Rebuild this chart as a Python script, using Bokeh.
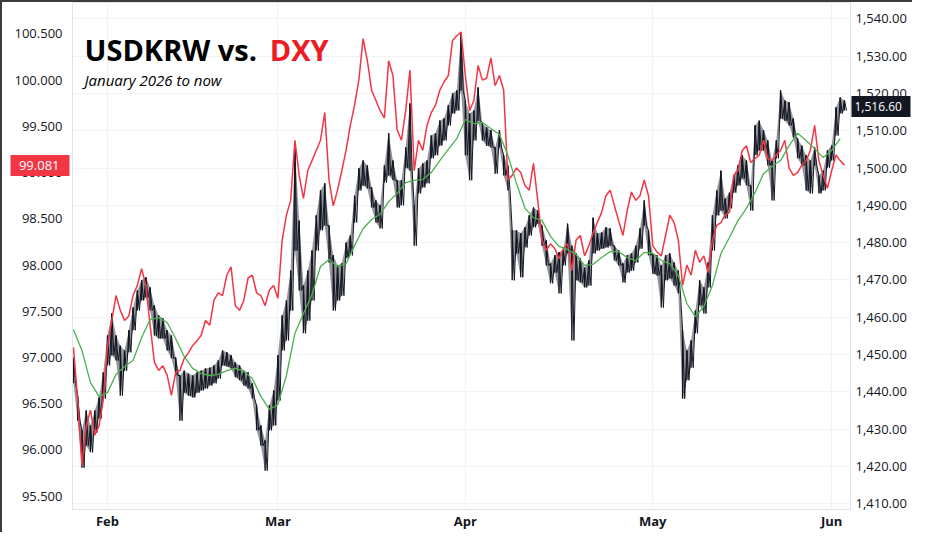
import numpy as np
from bokeh.plotting import figure
from bokeh.models import Range1d, LinearAxis, FixedTicker, NumeralTickFormatter, Label
from bokeh.embed import file_html
from bokeh.resources import INLINE

# Time axis: trading days (Mon-Fri) elapsed since Monday 2026-01-26
ORIGIN = "2026-01-26"
T_START = 1.0
STEP = 0.5        # two samples per trading day
MA_STEP = 1.0     # one moving-average sample per trading day

# DXY (left axis)
dxy = [
    97.11, 96.54, 95.83, 96.26, 96.43, 96.16, 96.26, 96.54, 97.13, 97.40,
    97.67, 97.51, 97.40, 97.45, 97.67, 97.78, 97.96, 97.78, 97.35, 96.95,
    96.86, 96.91, 96.81, 96.59, 96.84, 96.86, 96.99, 97.05, 97.13, 97.18,
    97.24, 97.40, 97.35, 97.62, 97.70, 97.67, 97.89, 97.98, 97.56, 97.51,
    97.62, 97.86, 97.89, 97.70, 97.67, 97.56, 97.73, 97.78, 97.64, 98.27,
    98.54, 98.70, 99.35, 98.97, 98.72, 99.02, 99.13, 99.24, 99.35, 99.65,
    98.92, 98.64, 98.81, 99.02, 99.24, 99.51, 99.73, 100.00, 100.45, 100.21,
    99.89, 99.78, 99.67, 99.59, 100.21, 100.05, 99.46, 99.35, 99.67, 100.11,
    99.02, 99.35, 99.24, 99.51, 99.65, 99.73, 99.89, 99.98, 100.05, 100.43,
    100.48, 100.52, 100.05, 99.67, 99.78, 100.16, 100.00, 100.02, 100.24, 99.94,
    100.05, 99.89, 98.92, 98.97, 99.05, 99.00, 98.86, 98.81, 99.10, 98.70,
    98.27, 98.16, 98.23, 98.18, 98.07, 98.18, 98.23, 97.94, 98.27, 98.32,
    98.10, 98.21, 98.35, 98.46, 98.57, 98.75, 98.81, 98.64, 98.48, 98.32,
    98.59, 98.79, 98.70, 98.75, 98.92, 98.75, 98.21, 98.14, 98.10, 98.32,
    98.54, 98.46, 98.27, 97.78, 98.00, 97.89, 98.16, 98.03, 98.10, 97.92,
    98.27, 98.43, 98.46, 98.54, 98.57, 98.97, 99.02, 99.24, 99.29, 99.11,
    99.15, 99.19, 99.35, 99.15, 99.13, 99.19, 99.24, 99.35, 99.05, 98.97,
    99.00, 99.08, 99.13, 99.24, 99.51, 99.13, 98.97, 98.83, 99.02, 99.19,
    99.13, 99.081,
]

# USDKRW (right axis): high / low of each half-day
krw_high = [
    1449.2, 1439.0, 1429.7, 1435.0, 1431.0, 1435.0, 1438.5, 1445.2, 1455.1, 1461.0,
    1455.1, 1452.4, 1451.1, 1456.5, 1462.6, 1467.2, 1469.9, 1470.7, 1468.0, 1463.2,
    1460.5, 1459.7, 1456.5, 1455.1, 1449.2, 1444.4, 1445.7, 1444.9, 1444.4, 1445.2,
    1445.7, 1446.3, 1446.5, 1447.1, 1448.4, 1451.1, 1450.6, 1449.8, 1447.9, 1447.1,
    1445.7, 1445.2, 1442.3, 1436.4, 1431.0, 1427.0, 1436.4, 1440.4, 1449.8, 1460.5,
    1464.5, 1472.5, 1505.2, 1485.9, 1468.5, 1472.5, 1477.9, 1487.3, 1494.0, 1495.9,
    1484.6, 1476.6, 1473.9, 1474.4, 1480.0, 1481.9, 1492.6, 1499.9, 1502.0, 1500.7,
    1494.8, 1491.3, 1490.0, 1500.7, 1509.3, 1502.0, 1496.7, 1496.7, 1505.5, 1517.3,
    1490.0, 1499.9, 1501.2, 1502.0, 1508.7, 1509.3, 1512.7, 1513.3, 1516.8, 1520.0,
    1520.8, 1536.1, 1518.1, 1514.6, 1515.4, 1521.6, 1511.9, 1510.9, 1510.1, 1505.5,
    1510.1, 1503.4, 1500.7, 1483.3, 1483.3, 1482.5, 1484.1, 1487.3, 1489.4, 1488.6,
    1484.6, 1480.6, 1474.4, 1476.6, 1477.4, 1477.9, 1485.1, 1479.2, 1477.1, 1475.8,
    1473.3, 1475.2, 1486.7, 1482.5, 1482.7, 1484.1, 1483.8, 1479.2, 1477.9, 1474.4,
    1476.6, 1477.1, 1479.2, 1483.8, 1491.3, 1483.3, 1477.1, 1476.6, 1473.9, 1476.6,
    1477.1, 1474.7, 1472.5, 1456.5, 1451.1, 1453.8, 1461.8, 1469.9, 1468.0, 1474.7,
    1487.3, 1494.0, 1499.3, 1491.8, 1493.4, 1498.0, 1500.7, 1503.4, 1502.0, 1495.3,
    1511.4, 1512.7, 1510.1, 1507.4, 1502.0, 1507.4, 1520.8, 1518.1, 1517.6, 1513.3,
    1507.9, 1506.0, 1503.4, 1502.0, 1505.5, 1498.0, 1499.3, 1504.7, 1506.0, 1516.2,
    1518.9, 1518.1,
]
krw_low = [
    1442.3, 1432.3, 1419.7, 1425.6, 1423.8, 1429.1, 1432.9, 1438.2, 1447.1, 1449.8,
    1448.4, 1439.0, 1445.7, 1450.6, 1456.5, 1461.8, 1464.5, 1465.3, 1461.8, 1455.1,
    1454.3, 1454.3, 1451.1, 1449.0, 1444.4, 1432.3, 1439.8, 1439.0, 1438.5, 1439.8,
    1440.4, 1440.9, 1441.7, 1442.3, 1443.6, 1447.1, 1446.8, 1446.3, 1443.9, 1443.1,
    1441.7, 1440.9, 1438.2, 1429.7, 1425.6, 1418.9, 1429.7, 1431.0, 1437.7, 1451.1,
    1453.8, 1461.8, 1477.9, 1467.2, 1455.7, 1459.1, 1464.5, 1477.9, 1483.3, 1484.6,
    1474.7, 1461.8, 1464.5, 1465.8, 1475.8, 1476.6, 1485.4, 1494.0, 1495.3, 1494.5,
    1489.4, 1485.4, 1483.8, 1496.1, 1498.0, 1496.7, 1489.4, 1490.0, 1500.1, 1499.3,
    1479.2, 1493.2, 1494.8, 1495.9, 1502.6, 1503.4, 1506.0, 1507.4, 1511.4, 1514.6,
    1515.4, 1520.8, 1503.4, 1496.7, 1507.4, 1512.7, 1507.4, 1506.0, 1505.5, 1498.5,
    1505.5, 1498.0, 1494.0, 1469.9, 1477.1, 1470.7, 1478.7, 1481.9, 1484.1, 1485.1,
    1479.2, 1473.9, 1469.1, 1472.0, 1466.4, 1473.9, 1477.1, 1453.8, 1469.9, 1469.3,
    1468.0, 1468.5, 1477.1, 1477.9, 1478.4, 1478.7, 1479.2, 1475.2, 1473.9, 1469.3,
    1472.0, 1472.5, 1474.7, 1478.4, 1484.6, 1476.6, 1471.7, 1471.2, 1462.6, 1469.9,
    1470.4, 1468.5, 1466.4, 1438.2, 1443.1, 1446.5, 1455.7, 1463.2, 1461.0, 1468.0,
    1477.9, 1487.3, 1488.6, 1486.5, 1489.2, 1493.4, 1495.3, 1497.2, 1495.3, 1488.6,
    1503.4, 1504.7, 1504.7, 1500.7, 1491.3, 1502.6, 1513.3, 1512.7, 1511.4, 1508.2,
    1502.6, 1500.7, 1494.0, 1493.2, 1500.7, 1493.2, 1494.0, 1500.1, 1502.0, 1508.7,
    1514.6, 1515.4,
]

# USDKRW moving average (green)
krw_ma = [
    1456.7, 1451.1, 1442.5, 1438.8, 1439.8, 1444.7, 1446.8, 1448.4, 1454.6, 1459.4,
    1459.9, 1458.6, 1454.3, 1449.5, 1446.3, 1444.9, 1444.4, 1444.7, 1445.7, 1446.3,
    1445.5, 1443.6, 1438.8, 1435.3, 1436.6, 1444.4, 1455.7, 1461.0, 1466.1, 1473.6,
    1475.5, 1473.6, 1474.4, 1479.2, 1483.8, 1486.2, 1487.6, 1491.0, 1493.2, 1496.1,
    1496.7, 1496.9, 1498.8, 1502.0, 1505.0, 1507.9, 1513.0, 1511.9, 1512.2, 1510.6,
    1509.0, 1503.4, 1495.9, 1489.2, 1486.7, 1485.9, 1481.7, 1479.0, 1478.2, 1476.8,
    1473.9, 1474.2, 1476.0, 1477.6, 1477.6, 1476.0, 1475.2, 1477.4, 1477.1, 1475.2,
    1474.4, 1471.2, 1463.7, 1460.2, 1462.9, 1468.5, 1477.1, 1481.4, 1485.9, 1489.2,
    1493.4, 1498.5, 1500.4, 1502.0, 1506.0, 1509.3, 1507.4, 1505.2, 1502.8, 1504.7,
    1507.9,
]

month_starts = ["2026-02-01", "2026-03-01", "2026-04-01", "2026-05-01", "2026-06-01"]
month_labels = ["Feb", "Mar", "Apr", "May", "Jun"]
dxy_ticks = [95.5, 96.0, 96.5, 97.0, 97.5, 98.0, 98.5, 99.0, 99.5, 100.0, 100.5]
krw_ticks = [1410, 1420, 1430, 1440, 1450, 1460, 1470, 1480, 1490, 1500, 1510, 1520, 1530, 1540]
LAST_DXY = 99.081
LAST_KRW = 1516.60

TITLE_A = "USDKRW vs."
TITLE_B = "DXY"
SUBTITLE = "January 2026 to now"

RED = "#f23645"
TITLE_RED = "#ec1c24"
BLACK = "#131722"
GREEN = "#4caf50"
GRID = "#f0f2f6"
SEP = "#e0e3eb"
FONT = "Open Sans"
NBSP = "\u00a0"

t = T_START + STEP * np.arange(len(dxy))
t_ma = T_START + MA_STEP * np.arange(len(krw_ma))
hi = np.array(krw_high)
lo = np.array(krw_low)
# saw-tooth path through each half-day's high then low
zz_t = np.empty(2 * len(t))
zz_t[0::2] = t
zz_t[1::2] = t + STEP / 2
zz_y = np.empty(2 * len(t))
zz_y[0::2] = hi
zz_y[1::2] = lo

first_bd = np.busday_offset(np.array(month_starts, dtype="datetime64[D]"), 0, roll="forward")
month_idx = np.busday_count(np.datetime64(ORIGIN), first_bd).astype(float)

X0, X1 = 0.89, 92.21
p = figure(
    frame_width=778, frame_height=507,
    output_backend="svg", toolbar_location=None,
    x_range=Range1d(X0, X1),
    y_range=Range1d(1408.49, 1544.36),
    y_axis_location="right",
    min_border_left=70, min_border_right=62, min_border_top=0, min_border_bottom=21,
)
p.styles = {"border-left": "2px solid #3c3c3c", "border-top": "2px solid #3c3c3c"}
p.background_fill_color = "white"
p.border_fill_color = "white"
p.outline_line_color = SEP
p.extra_y_ranges = {"dxy": Range1d(95.356, 100.840)}

# right axis (USDKRW)
ra = p.yaxis[0]
ra.ticker = FixedTicker(ticks=krw_ticks)
ra.formatter = NumeralTickFormatter(format="0,0.00")

# left axis (DXY)
la = LinearAxis(y_range_name="dxy", ticker=FixedTicker(ticks=dxy_ticks),
                formatter=NumeralTickFormatter(format="0.000"))
p.add_layout(la, "left")

for ax in (ra, la):
    ax.major_tick_line_color = None
    ax.minor_tick_line_color = None
    ax.major_tick_out = 0
    ax.major_tick_in = 0
    ax.axis_line_color = SEP
    ax.major_label_text_font = FONT
    ax.major_label_text_font_size = "13px"
    ax.major_label_text_color = BLACK
la.major_label_standoff = 10
ra.major_label_standoff = 5

# last-value price tags: one-tick axes whose thick tick forms the tag box
tag_l = LinearAxis(y_range_name="dxy", ticker=FixedTicker(ticks=[LAST_DXY]),
                   major_label_overrides={LAST_DXY: NBSP * 3 + f"{LAST_DXY:.3f}"})
tag_l.major_tick_line_color = RED
tag_l.major_tick_line_width = 21
tag_l.major_tick_in = 58
tag_l.major_tick_out = 1
tag_l.major_label_standoff = -49
tag_l.major_label_text_font_size = "13px"
p.add_layout(tag_l, "left")

tag_r = LinearAxis(ticker=FixedTicker(ticks=[LAST_KRW]),
                   major_label_overrides={LAST_KRW: f"{LAST_KRW:,.2f}" + NBSP * 2})
tag_r.major_tick_line_color = BLACK
tag_r.major_tick_line_width = 21
tag_r.major_tick_in = 58
tag_r.major_tick_out = 1
tag_r.major_label_standoff = -56
tag_r.major_label_text_font_size = "12px"
p.add_layout(tag_r, "right")

for ax in (tag_l, tag_r):
    ax.axis_line_color = None
    ax.minor_tick_line_color = None
    ax.major_tick_line_cap = "butt"
    ax.major_label_text_font = FONT
    ax.major_label_text_color = "white"

xa = p.xaxis[0]
xa.ticker = FixedTicker(ticks=list(month_idx))
xa.major_label_overrides = {float(v): lab for v, lab in zip(month_idx, month_labels)}
xa.major_tick_line_color = None
xa.minor_tick_line_color = None
xa.major_tick_out = 0
xa.major_tick_in = 0
xa.axis_line_color = SEP
xa.major_label_standoff = 2
xa.major_label_text_font = FONT
xa.major_label_text_font_size = "13px"
xa.major_label_text_font_style = "bold"
xa.major_label_text_color = BLACK

p.xgrid.grid_line_color = GRID
p.ygrid.grid_line_color = GRID

# series
p.varea(x=t, y1=lo, y2=hi, fill_color=BLACK, fill_alpha=0.45)
p.segment(x0=t, y0=lo, x1=t, y1=hi, line_color=BLACK, line_width=1.4)
p.line(zz_t, zz_y, line_color=BLACK, line_width=1.0)
p.line(t, dxy, y_range_name="dxy", line_color=RED, line_width=1.5)
p.line(t_ma, krw_ma, line_color=GREEN, line_width=1.3)

# titles
p.add_layout(Label(x=2.30, y=1528.8, y_offset=11, text=TITLE_A, text_font=FONT,
                   text_font_size="29px", text_font_style="bold", text_color="#000000",
                   text_baseline="alphabetic"))
p.add_layout(Label(x=24.05, y=1528.8, y_offset=11, text=TITLE_B, text_font=FONT,
                   text_font_size="29px", text_font_style="bold", text_color=TITLE_RED,
                   text_baseline="alphabetic"))
p.add_layout(Label(x=2.30, y=1522.1, y_offset=6, text=SUBTITLE, text_font=FONT,
                   text_font_size="15px", text_font_style="italic", text_color="#000000",
                   text_baseline="alphabetic"))

open("out.html", "w").write(file_html(p, INLINE))
